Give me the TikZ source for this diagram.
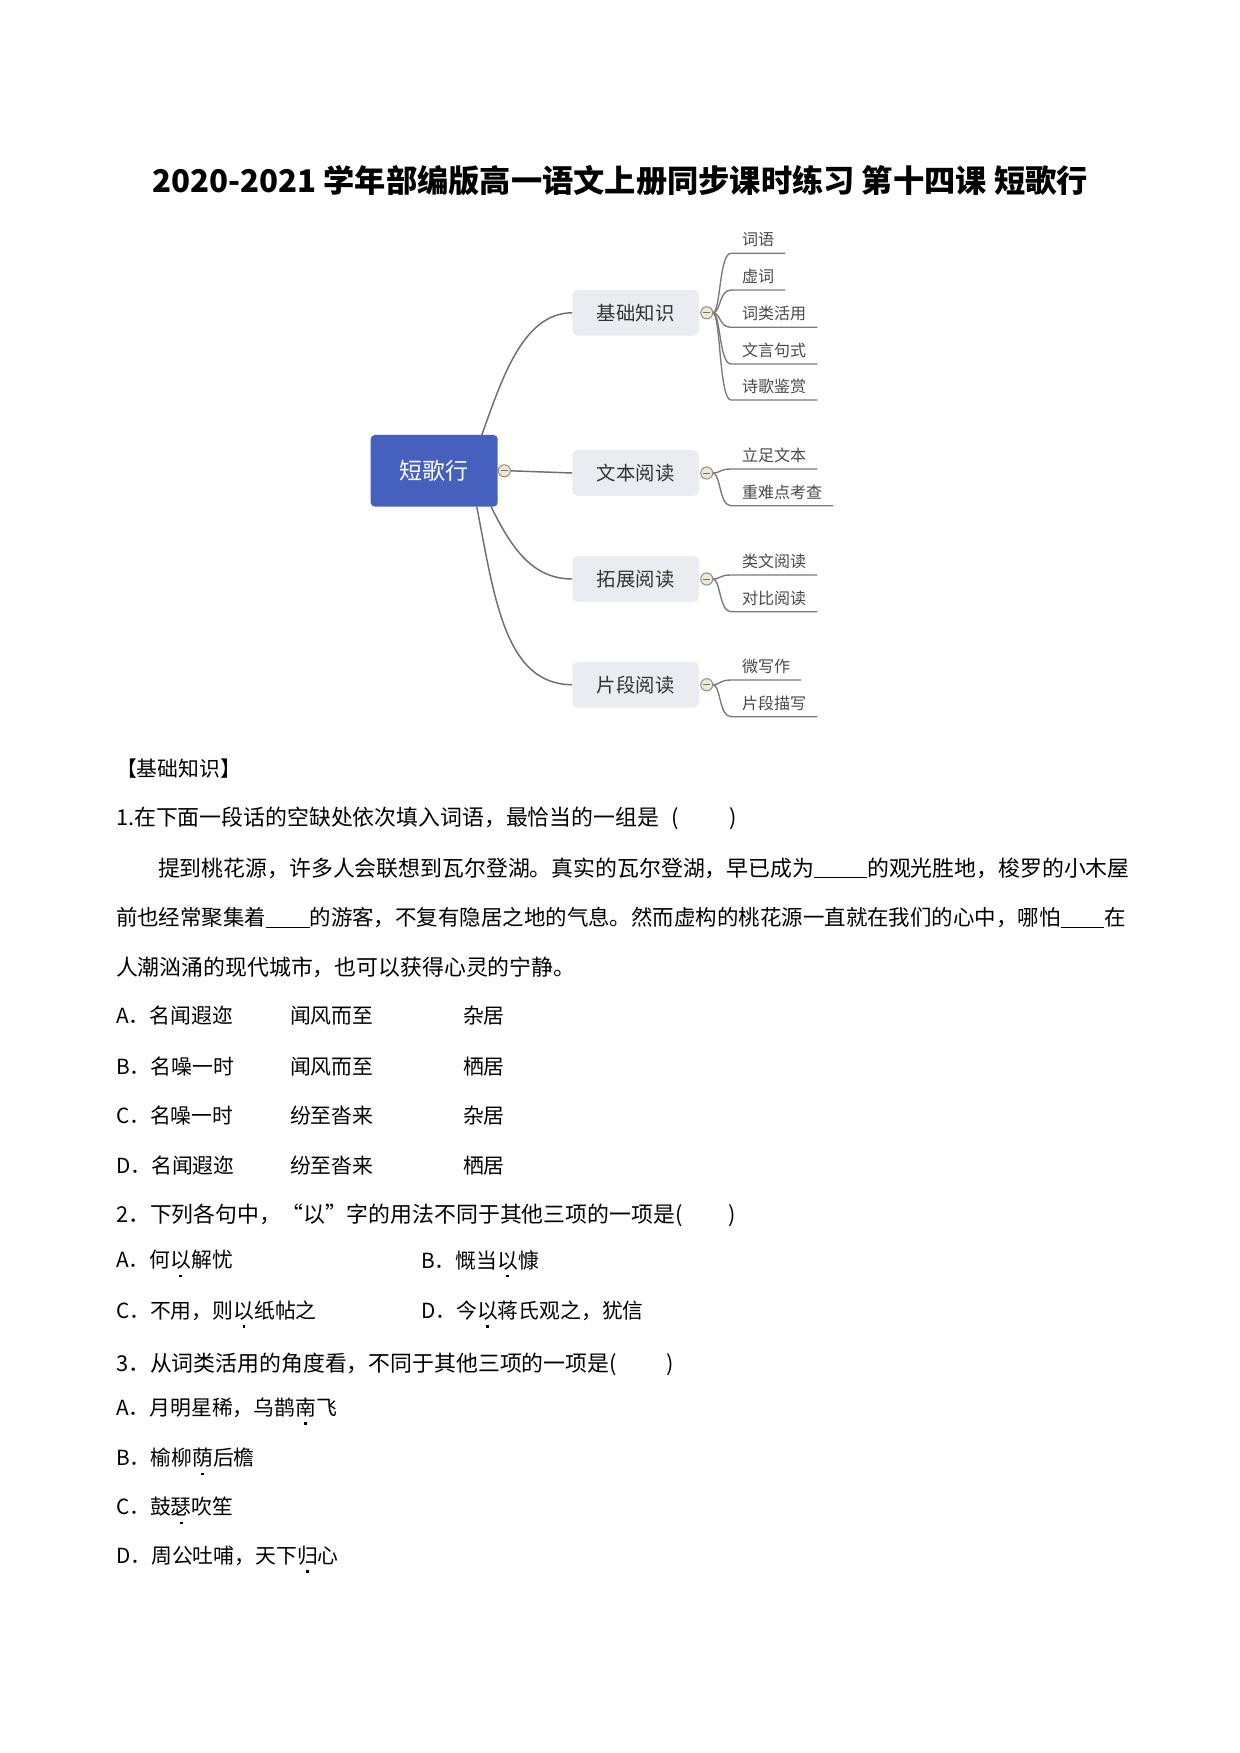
\documentclass[tikz,border=0pt]{standalone}
\usepackage{fontspec}
\setmainfont{Noto Sans CJK SC}
\usetikzlibrary{calc,backgrounds}
\definecolor{rootblue}{HTML}{4560BD}
\definecolor{branchbg}{HTML}{EBECF2}
\definecolor{branchtxt}{HTML}{333333}
\definecolor{linegray}{HTML}{6E6E6E}
\definecolor{childgray}{HTML}{7A7A7A}
\definecolor{childtxt}{HTML}{4A4A4A}
\definecolor{circfill}{HTML}{ECE8DC}
\definecolor{circdraw}{HTML}{9A9078}
\newcommand\zd[1]{#1\llap{\makebox[1em][c]{\smash{\rule[-0.45em]{1.3pt}{1.3pt}}}}}
\newcommand\blank[1]{\rule[-1pt]{#1}{0.6pt}}
\newcommand\zqleft{\makebox[1em][r]{“}}
\newcommand\zqright{\makebox[1em][l]{”}}
\tikzset{
  every node/.style={inner sep=0pt, outer sep=0pt},
  titlestyle/.style={font=\fontsize{15}{18}\selectfont\bfseries, text=black},
  body/.style={anchor=west, font=\fontsize{10}{12}\selectfont, text=black},
  bodyq/.style={anchor=west, font=\fontsize{10.5}{12.5}\selectfont, text=black},
  rootbox/.style={fill=rootblue, text=white, rounded corners=2pt, minimum width=61pt, minimum height=34.4pt, font=\fontsize{11}{13}\selectfont},
  branchbox/.style={fill=branchbg, text=branchtxt, rounded corners=2.5pt, minimum width=60.8pt, minimum height=21.9pt, font=\fontsize{9.3}{11}\selectfont},
  childnode/.style={anchor=south west, inner xsep=5.3pt, inner ysep=2.9pt, text=childtxt, font=\fontsize{7.7}{9}\selectfont},
  branchline/.style={draw=linegray, line width=0.7pt},
  childline/.style={draw=childgray, line width=0.65pt},
  collapse/.style={circle, draw=circdraw, fill=circfill, line width=0.5pt, minimum size=5.8pt,
    path picture={\draw[circdraw!80!black, line width=0.45pt] ([xshift=-1.7pt]path picture bounding box.center) -- ([xshift=1.7pt]path picture bounding box.center);}},
}
\begin{document}
\begin{tikzpicture}[x=0.48pt, y=-0.48pt]
\useasboundingbox (0,0) rectangle (1240,1753);
% title
\node[titlestyle] (title) at (620,181) {2020-2021 学年部编版高一语文上册同步课时练习 第十四课 短歌行};
% mind map boxes
\node[rootbox] (root) at (434.2,470.8) {短歌行};
\node[branchbox] (b1) at (635.7,312.8) {基础知识};
\node[branchbox] (b2) at (635.7,473) {文本阅读};
\node[branchbox] (b3) at (635.7,579) {拓展阅读};
\node[branchbox] (b4) at (635.7,684.7) {片段阅读};
% collapse circles
\node[collapse] (c0) at ($(root.east)+(6.6,0)$) {};
\node[collapse] (c1) at ($(b1.east)+(7.7,0)$) {};
\node[collapse] (c2) at ($(b2.east)+(7.7,0)$) {};
\node[collapse] (c3) at ($(b3.east)+(7.7,0)$) {};
\node[collapse] (c4) at ($(b4.east)+(7.7,0)$) {};
% children
\node[childnode] (k11) at (731,253.3) {词语};
\node[childnode] (k12) at (731,290) {虚词};
\node[childnode] (k13) at (731,327.3) {词类活用};
\node[childnode] (k14) at (731,364) {文言句式};
\node[childnode] (k15) at (731,400) {诗歌鉴赏};
\node[childnode] (k21) at (731,469) {立足文本};
\node[childnode] (k22) at (731,505.7) {重难点考查};
\node[childnode] (k31) at (731,575) {类文阅读};
\node[childnode] (k32) at (731,611.7) {对比阅读};
\node[childnode] (k41) at (731,680) {微写作};
\node[childnode] (k42) at (731,716.7) {片段描写};
\begin{scope}[on background layer]
\fill[white] (0,0) rectangle (1240,1753);
\draw[branchline] ($(root.north east)+(-16,0)$) .. controls +(20,-55) and +(-50,0) .. (b1.west);
\draw[branchline] (c0.east) -- (b2.west);
\draw[branchline] ($(root.south east)+(-6.7,0)$) .. controls +(19,38) and +(-42,0) .. (b3.west);
\draw[branchline] ($(root.south east)+(-21,0)$) .. controls +(18,93) and +(-67,0) .. (b4.west);
\foreach \c/\k in {c1/k11,c1/k12,c1/k13,c1/k14,c1/k15,c2/k21,c2/k22,c3/k31,c3/k32,c4/k41,c4/k42}{
  \draw[childline] (\c.east) .. controls +(8,0) and +(-12,0) .. (\k.south west) -- (\k.south east);
}
\end{scope}
% body text
\node[body] (h1) at (116,769) {【基础知识】};
\node[bodyq] (q1) at (116,818) {1.在下面一段话的空缺处依次填入词语，最恰当的一组是\hspace{6pt}(\hspace{24pt})};
\node[bodyq] (p1) at (158,868) {提到桃花源，许多人会联想到瓦尔登湖。真实的瓦尔登湖，早已成为\blank{25.4pt}的观光胜地，梭罗的小木屋};
\node[bodyq, font=\fontsize{10.3}{12.5}\selectfont] (p2) at (116,918) {前也经常聚集着\blank{20.8pt}的游客，不复有隐居之地的气息。然而虚构的桃花源一直就在我们的心中，哪怕\blank{21pt}在};
\node[bodyq] (p3) at (116,967) {人潮汹涌的现代城市，也可以获得心灵的宁静。};
\node[body] (o1a) at (116,1016) {A．名闻遐迩};
\node[body] (o1b) at (290,1016) {闻风而至};
\node[body] (o1c) at (463,1016) {杂居};
\node[body] (o2a) at (116,1067) {B．名噪一时};
\node[body] (o2b) at (290,1067) {闻风而至};
\node[body] (o2c) at (463,1067) {栖居};
\node[body] (o3a) at (116,1116) {C．名噪一时};
\node[body] (o3b) at (290,1116) {纷至沓来};
\node[body] (o3c) at (463,1116) {杂居};
\node[body] (o4a) at (116,1166) {D．名闻遐迩};
\node[body] (o4b) at (290,1166) {纷至沓来};
\node[body] (o4c) at (463,1166) {栖居};
\node[bodyq] (q2) at (116,1215) {2．下列各句中，\zqleft 以\zqright 字的用法不同于其他三项的一项是(\hspace{22pt})};
\node[body] (q2a) at (116,1260) {A．何\zd{以}解忧};
\node[body] (q2b) at (421,1260) {B．慨当\zd{以}慷};
\node[body] (q2c) at (116,1311) {C．不用，则\zd{以}纸帖之};
\node[body] (q2d) at (421,1311) {D．今\zd{以}蒋氏观之，犹信};
\node[bodyq] (q3) at (116,1364) {3．从词类活用的角度看，不同于其他三项的一项是(\hspace{24pt})};
\node[body] (q3a) at (116,1408) {A．月明星稀，乌鹊\zd{南}飞};
\node[body] (q3b) at (116,1458) {B．榆柳\zd{荫}后檐};
\node[body] (q3c) at (116,1507) {C．鼓\zd{瑟}吹笙};
\node[body] (q3d) at (116,1556) {D．周公吐哺，天下\zd{归}心};
\end{tikzpicture}
\end{document}
